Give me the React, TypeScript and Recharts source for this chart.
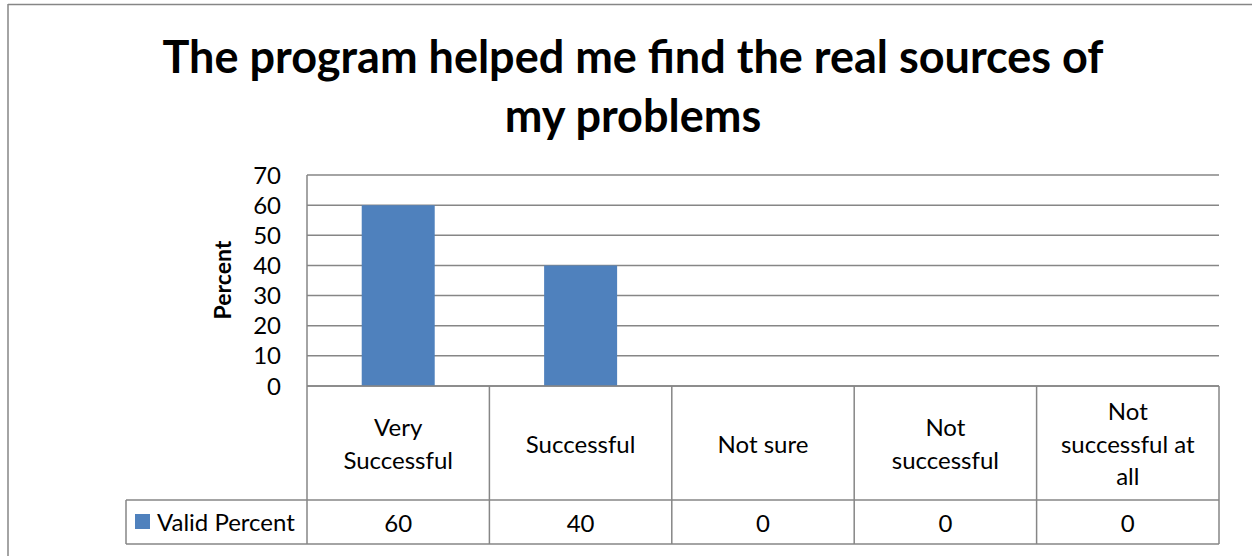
import { Bar, BarChart, CartesianGrid, Customized, XAxis, YAxis } from "recharts";

const categories = ["Very\nSuccessful", "Successful", "Not sure", "Not\nsuccessful", "Not\nsuccessful at\nall"];
const validPercent = [60, 40, 0, 0, 0];
const yTicks = [0, 10, 20, 30, 40, 50, 60, 70];
const seriesName = "Valid Percent";
const titleLines = ["The program helped me find the real sources of", "my problems"];

const data = categories.map((c, i) => ({ category: c, value: validPercent[i] }));

const W = 1252;
const H = 556;
const left = 307;
const right = 1219;
const top = 175;
const bottom = 386;
const rowSplit = 500;
const tableBottom = 544;
const legendLeft = 126;
const band = (right - left) / categories.length;
const line = "#868686";
const font = "Lato, 'Open Sans', sans-serif";
const yAxisW = 100;

function CategoryCell(props: any) {
  const { x, payload } = props;
  const lines = String(payload.value).split("\n");
  const lh = 32.5;
  const mid = (bottom + rowSplit) / 2;
  const start = mid - ((lines.length - 1) * lh) / 2;
  return (
    <g>
      <line x1={x + band / 2} x2={x + band / 2} y1={bottom} y2={tableBottom} stroke={line} strokeWidth={1.5} />
      {payload.index === 0 && (
        <line x1={x - band / 2} x2={x - band / 2} y1={bottom} y2={tableBottom} stroke={line} strokeWidth={1.5} />
      )}
      {lines.map((l, i) => (
        <text key={i} x={x} y={start + i * lh} textAnchor="middle" dominantBaseline="central" fontSize={24} fill="#000" fontFamily={font}>
          {l}
        </text>
      ))}
      <text x={x} y={(rowSplit + tableBottom) / 2} textAnchor="middle" dominantBaseline="central" fontSize={24} fill="#000" fontFamily={font}>
        {validPercent[payload.index]}
      </text>
    </g>
  );
}

function Extras() {
  return (
    <g>
      <line x1={8} x2={8} y1={4} y2={H} stroke={line} strokeWidth={1.5} />
      <line x1={8} x2={W} y1={4.5} y2={4.5} stroke={line} strokeWidth={1.5} />
      {titleLines.map((t, i) => (
        <text key={i} x={633} y={56 + i * 59} textAnchor="middle" dominantBaseline="central" fontSize={45} fontWeight="bold" fill="#000" fontFamily={font}>
          {t}
        </text>
      ))}
      <text x={222} y={280} transform="rotate(-90 222 280)" textAnchor="middle" dominantBaseline="central" fontSize={23} fontWeight="bold" fill="#000" fontFamily={font}>
        Percent
      </text>
      <line x1={legendLeft} x2={right} y1={rowSplit} y2={rowSplit} stroke={line} strokeWidth={1.5} />
      <line x1={legendLeft} x2={right} y1={tableBottom} y2={tableBottom} stroke={line} strokeWidth={1.5} />
      <line x1={legendLeft} x2={legendLeft} y1={rowSplit} y2={tableBottom} stroke={line} strokeWidth={1.5} />
      <rect x={135} y={514} width={15} height={15} fill="#4F81BD" />
      <text x={157} y={521} dominantBaseline="central" fontSize={24} fill="#000" fontFamily={font}>
        {seriesName}
      </text>
    </g>
  );
}

export default function App() {
  return (
    <div style={{ position: "absolute", left: 0, top: 0, background: "#fff" }}>
      <BarChart width={W} height={H} data={data} margin={{ top, right: W - right, bottom: 0, left: left - yAxisW }} barCategoryGap="30%">
        <CartesianGrid vertical={false} stroke={line} strokeWidth={1.5} />
        <XAxis dataKey="category" axisLine={{ stroke: line, strokeWidth: 1.5 }} tickLine={false} tick={<CategoryCell />} interval={0} height={H - bottom} />
        <YAxis domain={[0, 70]} ticks={yTicks} interval={0} axisLine={{ stroke: line, strokeWidth: 1.5 }} tickLine={false} width={yAxisW} tick={{ fontSize: 24, fill: "#000", fontFamily: font }} tickMargin={20} />
        <Bar dataKey="value" fill="#4F81BD" isAnimationActive={false} />
        <Customized component={Extras} />
      </BarChart>
    </div>
  );
}
